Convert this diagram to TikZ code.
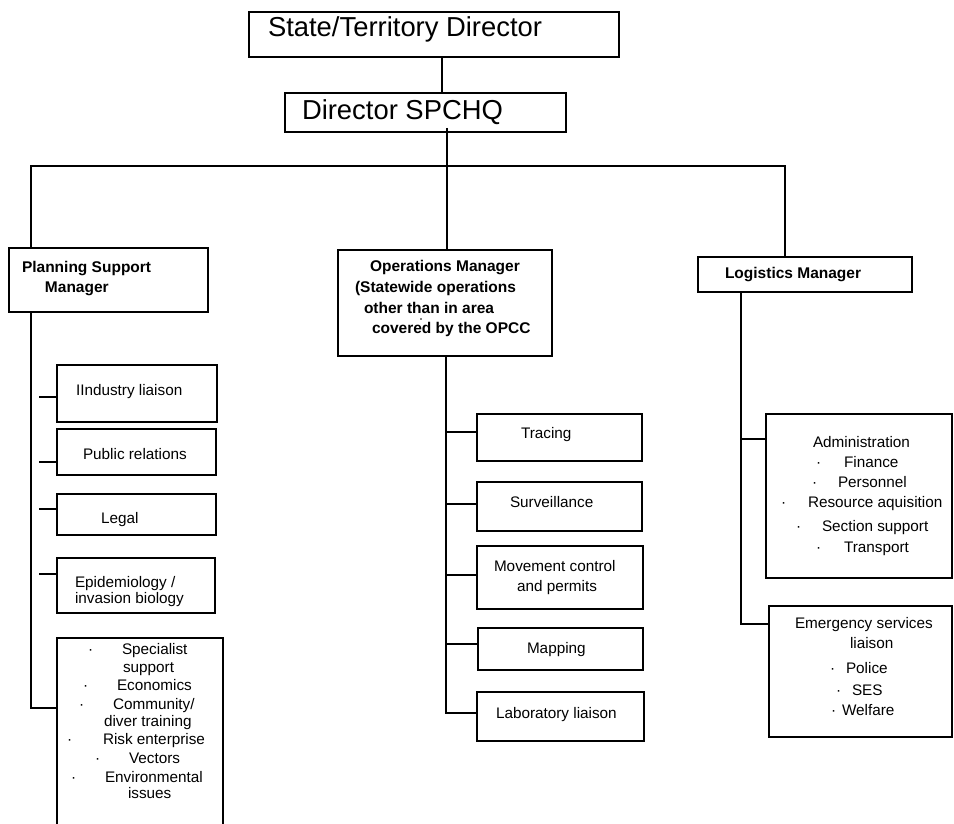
\documentclass[tikz,border=0pt]{standalone}
\usepackage{fontspec}
\setmainfont{Liberation Sans}
\begin{document}
\begin{tikzpicture}[x=1pt,y=-1pt]
\tikzset{
  box/.style={draw, rectangle, line width=1.2pt, inner sep=0pt, outer sep=0pt},
  lbl/.style={inner sep=0pt, outer sep=0pt, anchor=base west, font=\fontsize{15.3}{18}\selectfont},
  hdr/.style={lbl, font=\fontsize{15.5}{18}\selectfont\bfseries},
  big/.style={lbl, font=\fontsize{27.4}{32}\selectfont},
  link/.style={line width=1.1pt},
}
\useasboundingbox (0,0) rectangle (954,824);

% ---------- boxes ----------
\node[box, minimum width=370pt, minimum height=45pt] (state) at (434,34.5) {};
\node[box, minimum width=281pt, minimum height=39pt] (spchq) at (425.5,112.5) {};
\node[box, minimum width=199pt, minimum height=64pt] (psm) at (108.5,280) {};
\node[box, minimum width=214pt, minimum height=106pt] (ops) at (445,303) {};
\node[box, minimum width=214pt, minimum height=35pt] (log) at (805,274.5) {};

\node[box, minimum width=160pt, minimum height=57pt] (ind) at (137,393.5) {};
\node[box, minimum width=159pt, minimum height=46pt] (pub) at (136.5,452) {};
\node[box, minimum width=159pt, minimum height=41pt] (legal) at (136.5,514.5) {};
\node[box, minimum width=158pt, minimum height=55pt] (epi) at (136,585.5) {};
\node[box, minimum width=166pt, minimum height=194pt] (spec) at (140,735) {};

\node[box, minimum width=165pt, minimum height=47pt] (trac) at (559.5,437.5) {};
\node[box, minimum width=165pt, minimum height=49pt] (surv) at (559.5,506.5) {};
\node[box, minimum width=166pt, minimum height=63pt] (move) at (560,577.5) {};
\node[box, minimum width=165pt, minimum height=42pt] (map) at (560.5,649) {};
\node[box, minimum width=167pt, minimum height=49pt] (lab) at (560.5,716.5) {};

\node[box, minimum width=186pt, minimum height=164pt] (admin) at (859,496) {};
\node[box, minimum width=183pt, minimum height=131pt] (emerg) at (860.5,671.5) {};

% ---------- connectors ----------
\draw[link] ([xshift=8pt]state.south) -- ([xshift=8pt]state.south |- spchq.north);

\coordinate (trunk) at (447,128);
\coordinate (barL) at (31,166);
\coordinate (barR) at (785,166);
\draw[link] (trunk) -- (trunk |- ops.north);
\draw[link] (barL |- psm.north) -- (barL) -- (barR) -- (barR |- log.north);

% planning support branch
\coordinate (pl) at (31,708);
\draw[link] (pl |- psm.south) -- (pl) -- (pl -| spec.west);
\coordinate (p1) at (39,397);
\coordinate (p2) at (39,462);
\coordinate (p3) at (39,509);
\coordinate (p4) at (39,574);
\draw[link] (p1) -- (p1 -| ind.west);
\draw[link] (p2) -- (p2 -| pub.west);
\draw[link] (p3) -- (p3 -| legal.west);
\draw[link] (p4) -- (p4 -| epi.west);

% operations branch
\coordinate (ol) at (446,713);
\coordinate (o1) at (446,432);
\coordinate (o2) at (446,504);
\coordinate (o3) at (446,575);
\coordinate (o4) at (446,644);
\draw[link] (ol |- ops.south) -- (ol) -- (ol -| lab.west);
\draw[link] (o1) -- (o1 -| trac.west);
\draw[link] (o2) -- (o2 -| surv.west);
\draw[link] (o3) -- (o3 -| move.west);
\draw[link] (o4) -- (o4 -| map.west);

% logistics branch
\coordinate (ll) at (741,624);
\coordinate (l1) at (741,439);
\draw[link] (ll |- log.south) -- (ll) -- (ll -| emerg.west);
\draw[link] (l1) -- (l1 -| admin.west);

% ---------- texts ----------
\node[big] (tstate) at (268,37) {State/Territory Director};
\node[big] (tspchq) at (302,120) {Director SPCHQ};

\node[hdr] (tpsm1) at (22,272) {Planning Support};
\node[hdr] (tpsm2) at (45,292) {Manager};

\node[hdr] (tops1) at (370,271) {Operations Manager};
\node[hdr] (tops2) at (355,292) {(Statewide operations};
\node[hdr] (tops3) at (364,313) {other than in area};
\node[hdr] (tops4) at (372,333) {covered by the OPCC};
\fill (421,319) circle (0.8pt);

\node[hdr] (tlog) at (725,278) {Logistics Manager};

\node[lbl] (tind) at (76,395) {IIndustry liaison};
\node[lbl] (tpub) at (83,459) {Public relations};
\node[lbl] (tlegal) at (101,523) {Legal};
\node[lbl] (tepi1) at (75,587) {Epidemiology /};
\node[lbl] (tepi2) at (75,603) {invasion biology};

\node[lbl] (d1) at (88,654) {·};
\node[lbl] (ts1) at (122,654) {Specialist};
\node[lbl] (ts1b) at (123,672) {support};
\node[lbl] (d2) at (83,690) {·};
\node[lbl] (ts2) at (117,690) {Economics};
\node[lbl] (d3) at (79,709) {·};
\node[lbl] (ts3) at (113,709) {Community/};
\node[lbl] (ts3b) at (104,726) {diver training};
\node[lbl] (d4) at (67,744) {·};
\node[lbl] (ts4) at (103,744) {Risk enterprise};
\node[lbl] (d5) at (95,763) {·};
\node[lbl] (ts5) at (129,763) {Vectors};
\node[lbl] (d6) at (71,782) {·};
\node[lbl] (ts6) at (105,782) {Environmental};
\node[lbl] (ts6b) at (128,798) {issues};

\node[lbl] (ttrac) at (521,438) {Tracing};
\node[lbl] (tsurv) at (510,507) {Surveillance};
\node[lbl] (tmove1) at (494,571) {Movement control};
\node[lbl] (tmove2) at (517,591) {and permits};
\node[lbl] (tmap) at (527,653) {Mapping};
\node[lbl] (tlab) at (496,718) {Laboratory liaison};

\node[lbl] (tad) at (813,447) {Administration};
\node[lbl] (da1) at (816,467) {·};
\node[lbl] (ta1) at (844,467) {Finance};
\node[lbl] (da2) at (812,487) {·};
\node[lbl] (ta2) at (838,487) {Personnel};
\node[lbl] (da3) at (781,507) {·};
\node[lbl] (ta3) at (808,507) {Resource aquisition};
\node[lbl] (da4) at (796,531) {·};
\node[lbl] (ta4) at (822,531) {Section support};
\node[lbl] (da5) at (816,552) {·};
\node[lbl] (ta5) at (844,552) {Transport};

\node[lbl] (tem1) at (795,628) {Emergency services};
\node[lbl] (tem2) at (850,648) {liaison};
\node[lbl] (de1) at (830,673) {·};
\node[lbl] (te1) at (846,673) {Police};
\node[lbl] (de2) at (836,695) {·};
\node[lbl] (te2) at (852,695) {SES};
\node[lbl] (de3) at (831,715) {·};
\node[lbl] (te3) at (842,715) {Welfare};
\end{tikzpicture}
\end{document}
